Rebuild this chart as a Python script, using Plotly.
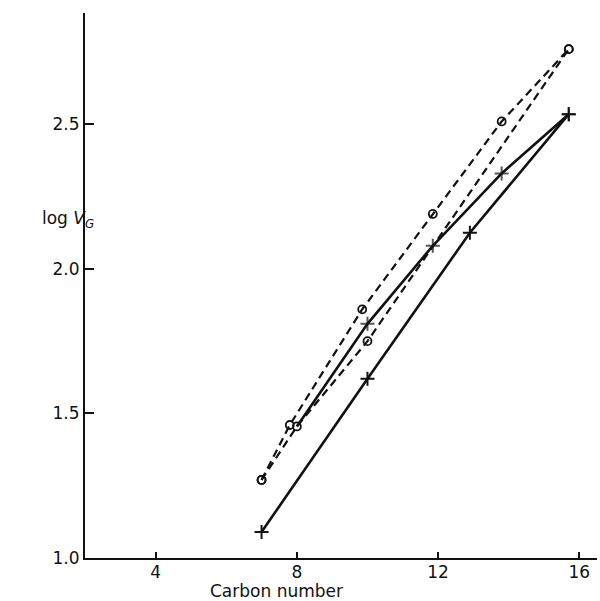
import plotly.graph_objects as go

# Data
dash_upper_x = [7, 7.8, 9.85, 11.85, 13.8, 15.7]
dash_upper_y = [1.27, 1.46, 1.86, 2.19, 2.51, 2.76]

dash_lower_x = [7, 8.0, 10.0, 15.7]
dash_lower_y = [1.27, 1.455, 1.75, 2.76]

solid_upper_x = [8.0, 10.0, 11.85, 13.8, 15.7]
solid_upper_y = [1.455, 1.81, 2.08, 2.33, 2.535]

solid_lower_x = [7, 10, 12.9, 15.7]
solid_lower_y = [1.09, 1.62, 2.125, 2.535]

x_ticks = [4, 8, 12, 16]
y_ticks = [1.0, 1.5, 2.0, 2.5]
y_tick_text = ["1.0", "1.5", "2.0", "2.5"]

FONT = "DejaVu Sans"
BLACK = "#111111"

fig = go.Figure()

circle = dict(symbol="circle-open", size=8, color=BLACK, line=dict(width=1.8, color=BLACK))
cross = dict(symbol="cross-thin", size=10, color=BLACK, line=dict(width=2, color=BLACK))

fig.add_trace(go.Scatter(x=dash_upper_x, y=dash_upper_y, mode="lines+markers",
                         line=dict(color=BLACK, width=2.2, dash="8px,5px"), marker=circle))
fig.add_trace(go.Scatter(x=dash_lower_x, y=dash_lower_y, mode="lines+markers",
                         line=dict(color=BLACK, width=2.2, dash="8px,5px"), marker=circle))
fig.add_trace(go.Scatter(x=solid_upper_x, y=solid_upper_y, mode="lines+markers",
                         line=dict(color=BLACK, width=2.6),
                         marker=dict(cross, size=[0, 10, 10, 10, 10])))
fig.add_trace(go.Scatter(x=solid_lower_x, y=solid_lower_y, mode="lines+markers",
                         line=dict(color=BLACK, width=2.6), marker=cross))

fig.update_layout(
    width=600, height=601,
    margin=dict(l=85, r=3, t=13, b=43),
    paper_bgcolor="white", plot_bgcolor="white",
    showlegend=False,
    font=dict(family=FONT, size=16, color=BLACK),
)
fig.update_xaxes(range=[2, 16.5], tickvals=x_ticks, ticks="inside", ticklen=6, tickwidth=1.5,
                 tickcolor=BLACK, showline=True, linecolor=BLACK, linewidth=2.2,
                 showgrid=False, zeroline=False, tickfont=dict(size=17),
                 ticklabelstandoff=-3)
fig.update_yaxes(range=[1.0, 2.885], tickvals=y_ticks, ticktext=y_tick_text, ticks="inside",
                 ticklen=9, tickwidth=1.5, tickcolor=BLACK, showline=True, linecolor=BLACK,
                 linewidth=2.2, showgrid=False, zeroline=False, tickfont=dict(size=17))

fig.add_annotation(x=0, xref="paper", xshift=-45, y=2.17, yref="y",
                   text="log <i>V</i><sub><i>G</i></sub>", showarrow=False,
                   font=dict(size=17, family=FONT, color=BLACK))
fig.add_annotation(x=7.42, xref="x", y=0, yref="paper", yanchor="middle", yshift=-33,
                   text="Carbon number", showarrow=False,
                   font=dict(size=17, family=FONT, color=BLACK))

fig.write_html("out.html")
